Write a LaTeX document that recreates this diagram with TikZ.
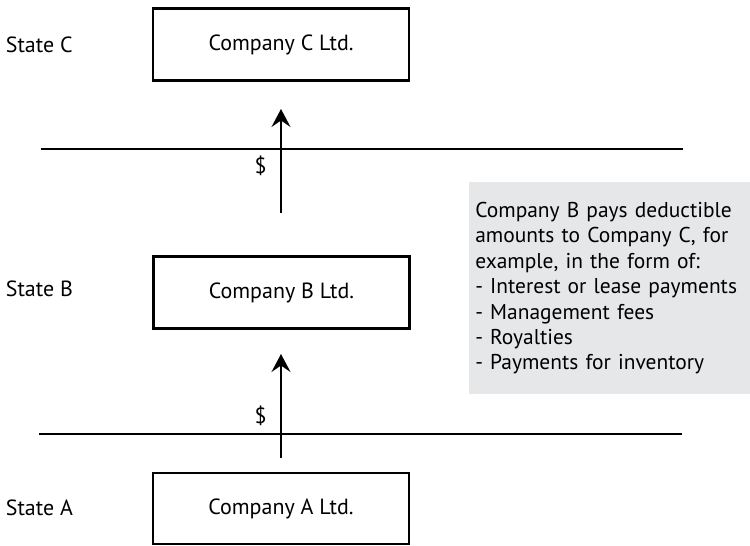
\documentclass[tikz,border=0pt]{standalone}
\usepackage{fontspec}
\setmainfont{PT Sans}
\usepackage{xcolor}
\usetikzlibrary{arrows.meta}
\definecolor{notegray}{HTML}{E6E7E8}

\tikzset{
	company/.style={draw,line width=1.3pt,minimum width=5.12cm,minimum height=1.44cm,font=\fontsize{12.5}{14.5}\selectfont},
	statelbl/.style={anchor=west,inner sep=0pt,font=\fontsize{12.5}{14.5}\selectfont},
	border/.style={line width=0.6pt},
	pay/.style={line width=1pt,-{Stealth[length=3.6mm,width=3.8mm,inset=1.3mm]}}
}

\begin{document}
\begin{tikzpicture}
	\useasboundingbox (0,0) rectangle (15,10.9);
	\node[company] (compC) at (5.62,10.01) {Company C Ltd.};
	\node[company] (compB) at (5.63,5.05) {Company B Ltd.};
	\node[company,minimum height=1.42cm] (compA) at (5.62,0.73) {Company A Ltd.};
	\node[statelbl] (stC) at (0.11,10.01) {State C};
	\node[statelbl] (stB) at (0.11,5.12) {State B};
	\node[statelbl] (stA) at (0.11,0.74) {State A};

	\coordinate (bordCl) at (0.81,7.92);
	\coordinate (bordCr) at (13.66,7.92);
	\coordinate (bordBl) at (0.78,2.22);
	\coordinate (bordBr) at (13.63,2.22);
	\draw[border] (bordCl) -- (bordCr);
	\draw[border] (bordBl) -- (bordBr);

	\coordinate (fromB) at (5.62,6.65);
	\coordinate (toC) at (5.62,8.72);
	\coordinate (fromA) at (5.62,1.74);
	\coordinate (toB) at (5.62,3.82);
	\draw[pay] (fromB) -- (toC);
	\draw[pay] (fromA) -- (toB);
	\node[font=\fontsize{12.5}{14.5}\selectfont] (usdC) at (5.21,7.58) {\$};
	\node[font=\fontsize{12.5}{14.5}\selectfont] (usdB) at (5.21,2.59) {\$};

	\node[fill=notegray,anchor=north west,minimum width=5.63cm,minimum height=4.23cm,
		text width=5.37cm,inner xsep=0.13cm,inner ysep=0pt,align=left,
		font=\fontsize{12.2}{14.5}\selectfont] (note) at (9.37,7.26)
		{Company B pays deductible amounts to Company C, for example, in the form of:\\
		- Interest or lease payments\\
		- Management fees\\
		- Royalties\\
		- Payments for inventory};
\end{tikzpicture}
\end{document}
